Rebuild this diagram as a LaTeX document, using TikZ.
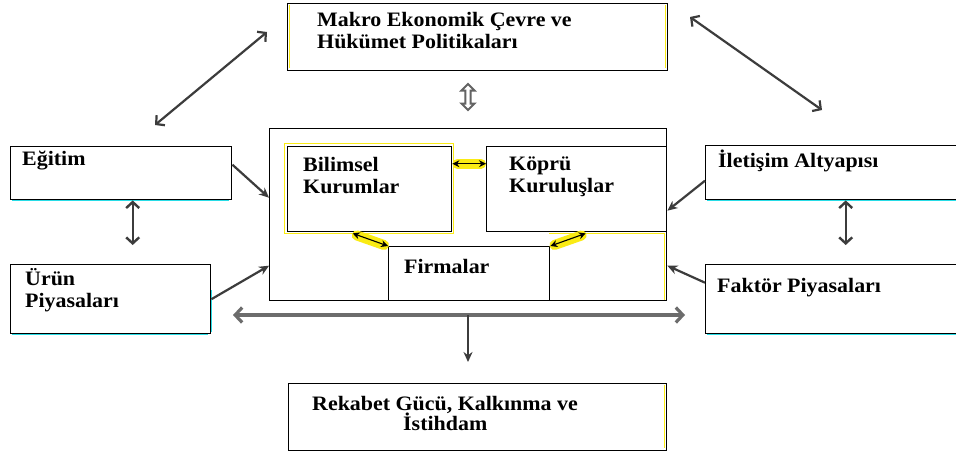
\documentclass[tikz,border=0pt]{standalone}
\usepackage{fontspec}
\setmainfont{Liberation Serif}[FakeStretch=1.07]
\usetikzlibrary{arrows.meta,shapes.arrows}
\definecolor{glow}{RGB}{250,235,20}
\definecolor{cyanish}{RGB}{40,220,230}
\definecolor{arrgray}{RGB}{60,60,60}
\tikzset{
  box/.style={draw=black,line width=1.4pt,anchor=north west,inner sep=0pt,fill=white},
  lbl/.style={anchor=base west,inner sep=0pt,font=\fontsize{20.5}{21.5}\selectfont\bfseries,align=left},
  conn/.style={draw=arrgray,line width=2.2pt},
  filltip/.style={-{Stealth[length=10pt,width=9pt]}},
  chev/.style={{Straight Barb[length=6pt,width=13pt]}-{Straight Barb[length=6pt,width=13pt]}},
  inarrow/.style={draw=black,line width=1.1pt,{Stealth[length=7pt,width=7pt]}-{Stealth[length=7pt,width=7pt]}},
  yglow/.style={draw=glow,line width=10pt,line cap=round},
}
\begin{document}
\begin{tikzpicture}[x=1pt,y=-1pt]
\clip (0,0) rectangle (956,455);
\fill[white] (0,0) rectangle (956,455);
% boxes
\node[box,minimum width=380pt,minimum height=67pt] (top) at (287,3) {};
\draw[glow,line width=1.5pt] (665.5,5) -- (665.5,68);
\draw[glow,line width=0.8pt] (289,5) -- (289,68);
\node[box,minimum width=397pt,minimum height=172pt] (outer) at (269,128) {};
\draw[glow,line width=1.6pt] (284.5,143.5) rectangle (453.5,233.5);
\draw[glow,line width=1.6pt] (549,233.5) -- (664.5,233.5) -- (664.5,300);
\node[box,minimum width=164pt,minimum height=85pt] (bil) at (287,146) {};
\node[box,minimum width=180pt,minimum height=85pt] (kop) at (486,146) {};
\node[box,minimum width=161pt,minimum height=54pt] (firm) at (388,246) {};
\node[box,minimum width=221pt,minimum height=53pt] (egi) at (10,146) {};
\node[box,minimum width=200pt,minimum height=69pt] (urun) at (10,264) {};
\node[box,minimum width=260pt,minimum height=54pt] (ilet) at (705,145) {};
\node[box,minimum width=260pt,minimum height=69pt] (fak) at (705,264) {};
\node[box,minimum width=378pt,minimum height=67pt] (bot) at (288,383) {};
\draw[glow,line width=1.5pt] (664.5,385) -- (664.5,448);
% cyan accents
\draw[cyanish,line width=0.8pt] (12,200.5) -- (229,200.5);
\draw[cyanish,line width=0.8pt] (12,334.5) -- (208,334.5);
\draw[cyanish,line width=0.8pt] (211.5,290) -- (211.5,332);
\draw[cyanish,line width=0.8pt] (707,200.5) -- (956,200.5);
\draw[cyanish,line width=0.8pt] (707,334.5) -- (956,334.5);
% texts (base = last line)
\node[lbl,font=\fontsize{20.5}{22}\selectfont\bfseries] (tMakro) at (317,48) {Makro Ekonomik Çevre ve\\Hükümet Politikaları};
\node[lbl] (tBil) at (303,193) {Bilimsel\\Kurumlar};
\node[lbl] (tKop) at (509,192) {Köprü\\Kuruluşlar};
\node[lbl] (tFirm) at (404,273) {Firmalar};
\node[lbl] (tEgi) at (22,165) {Eğitim};
\node[lbl] (tUrun) at (25,307) {Ürün\\Piyasaları};
\node[lbl] (tIlet) at (718,167) {İletişim Altyapısı};
\node[lbl] (tFak) at (717,292) {Faktör Piyasaları};
\node[lbl] (tRek) at (312,410) {Rekabet Gücü, Kalkınma ve};
\node[lbl] (tIst) at (403,430) {İstihdam};
% small hollow double arrow between top box and outer box
\node[double arrow,rotate=90,draw=arrgray!80,fill=white,line width=2pt,
      minimum height=26pt,minimum width=13pt,double arrow head extend=1.5pt,inner sep=0pt] (updown) at (468,97) {};
% top diagonal double arrows
\coordinate (dl1) at (155,125);
\coordinate (dl2) at (267,32);
\coordinate (dr1) at (690,17);
\coordinate (dr2) at (822,110);
\draw[conn,chev] (dl1) -- (dl2);
\draw[conn,chev] (dr1) -- (dr2);
% side arrows into the outer box
\draw[conn,filltip] ([yshift=8.5pt]egi.east) -- ([yshift=17pt]outer.west);
\draw[conn,filltip] (urun.east) -- ([yshift=-51pt]outer.west);
\draw[conn,filltip] ([yshift=-8pt]ilet.west) -- ([yshift=4pt]outer.east);
\draw[conn,filltip] ([yshift=16.5pt]fak.west) -- ([yshift=-51pt]outer.east);
% vertical double arrows
\draw[conn,line width=2.4pt,chev,shorten >=19pt] ([xshift=11.5pt]egi.south) -- ([xshift=22pt]urun.north);
\draw[conn,line width=2.4pt,chev,shorten >=19pt] ([xshift=10pt]ilet.south) -- ([xshift=10pt]fak.north);
% inner yellow double arrows
\draw[yglow] ([yshift=25.5pt,xshift=5pt]bil.east) -- ([yshift=25.5pt,xshift=-5pt]kop.west);
\draw[inarrow] ([yshift=25.5pt]bil.east) -- ([yshift=25.5pt]kop.west);
\draw[yglow] ([xshift=-13pt,yshift=-3pt]bil.south) -- ([xshift=-4pt,yshift=1pt]firm.north west);
\draw[inarrow] ([xshift=-17pt,yshift=-1pt]bil.south) -- (firm.north west);
\draw[yglow] ([xshift=5pt,yshift=-3pt]kop.south) -- ([xshift=4pt,yshift=1pt]firm.north east);
\draw[inarrow] ([xshift=9pt,yshift=-1pt]kop.south) -- (firm.north east);
% bottom horizontal arrow and down arrow
\coordinate (hl) at (233,315);
\coordinate (hr) at (685,315);
\coordinate (hm) at (468,315);
\draw[draw=gray!85!black,line width=3.2pt,{Straight Barb[length=7pt,width=15pt]}-{Straight Barb[length=7pt,width=15pt]}] (hl) -- (hr);
\draw[conn,filltip,shorten >=21pt] (hm) -- (hm |- bot.north);
\end{tikzpicture}
\end{document}
